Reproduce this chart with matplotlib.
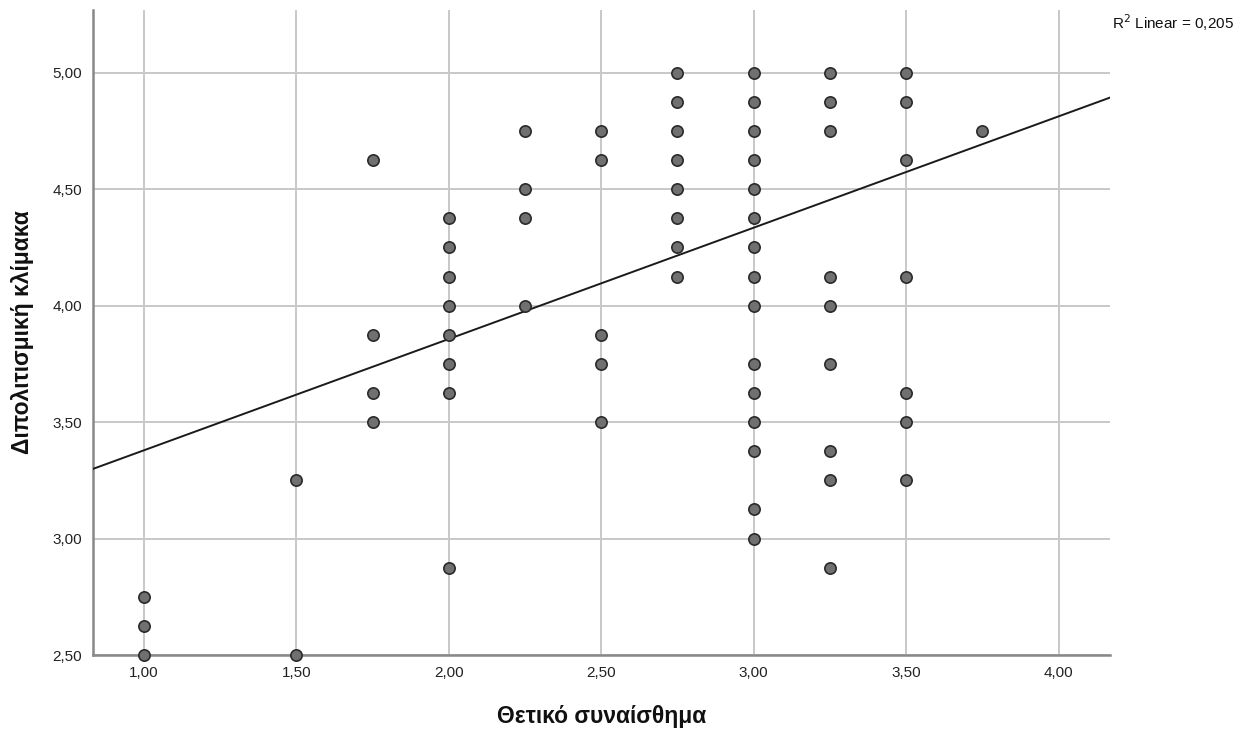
import matplotlib
matplotlib.use("Agg")
import matplotlib.pyplot as plt
from matplotlib.ticker import FuncFormatter
import numpy as np

plt.rcParams['font.family'] = ['Liberation Sans', 'DejaVu Sans']

# Data: x value (Θετικό συναίσθημα) and y values (Διπολιτισμική κλίμακα) per column
x_1_00 = [2.75, 2.625, 2.50]
x_1_50 = [3.25, 2.50]
x_1_75 = [4.625, 3.875, 3.625, 3.50]
x_2_00 = [4.375, 4.25, 4.125, 4.00, 3.875, 3.75, 3.625, 2.875]
x_2_25 = [4.75, 4.50, 4.375, 4.00]
x_2_50 = [4.75, 4.625, 3.875, 3.75, 3.50]
x_2_75 = [5.00, 4.875, 4.75, 4.625, 4.50, 4.375, 4.25, 4.125]
x_3_00 = [5.00, 4.875, 4.75, 4.625, 4.50, 4.375, 4.25, 4.125, 4.00,
          3.75, 3.625, 3.50, 3.375, 3.125, 3.00]
x_3_25 = [5.00, 4.875, 4.75, 4.125, 4.00, 3.75, 3.375, 3.25, 2.875]
x_3_50 = [5.00, 4.875, 4.625, 4.125, 3.625, 3.50, 3.25]
x_3_75 = [4.75]

columns = {1.00: x_1_00, 1.50: x_1_50, 1.75: x_1_75, 2.00: x_2_00,
           2.25: x_2_25, 2.50: x_2_50, 2.75: x_2_75, 3.00: x_3_00,
           3.25: x_3_25, 3.50: x_3_50, 3.75: x_3_75}

# Linear fit line
fit_intercept = 2.901
fit_slope = 0.478
r2_text = "R$^2$ Linear = 0,205"

x_ticks = [1.00, 1.50, 2.00, 2.50, 3.00, 3.50, 4.00]
y_ticks = [2.50, 3.00, 3.50, 4.00, 4.50, 5.00]
x_label = "Θετικό συναίσθημα"
y_label = "Διπολιτισμική κλίμακα"

xs, ys = [], []
for xv, yl in columns.items():
    for yv in yl:
        xs.append(xv)
        ys.append(yv)

fig = plt.figure(figsize=(12.56, 7.33), dpi=100)
ax = fig.add_axes([0.074, 0.1064, 0.8098, 0.88])

xlim = (0.833, 4.169)
ylim = (2.50, 5.27)
ax.set_xlim(*xlim)
ax.set_ylim(*ylim)

ax.set_xticks(x_ticks)
ax.set_yticks(y_ticks)
fmt = FuncFormatter(lambda v, p: f"{v:.2f}".replace('.', ','))
ax.xaxis.set_major_formatter(fmt)
ax.yaxis.set_major_formatter(fmt)
ax.tick_params(axis='both', length=0, labelsize=11, colors='#222222', pad=8)

ax.grid(True, color='#c8c8c8', linewidth=1.4)
ax.set_axisbelow(True)

for s in ['top', 'right']:
    ax.spines[s].set_visible(False)
for s in ['left', 'bottom']:
    ax.spines[s].set_color('#888888')
    ax.spines[s].set_linewidth(1.8)

lx = np.array(xlim)
ax.plot(lx, fit_intercept + fit_slope * lx, color='#1a1a1a', linewidth=1.4,
        zorder=3, clip_on=True)

ax.scatter(xs, ys, s=66, facecolor='#707070', edgecolor='#2a2a2a',
           linewidths=1.2, zorder=4, clip_on=False)

ax.set_xlabel(x_label, fontsize=16.5, fontweight='bold', labelpad=18,
              color='#111111')
ax.set_ylabel(y_label, fontsize=16.5, fontweight='bold', labelpad=13,
              color='#111111')

fig.text(0.8855, 0.9686, r2_text, fontsize=11, color='#111111',
         ha='left', va='center')

fig.savefig("out.png", dpi=100)
